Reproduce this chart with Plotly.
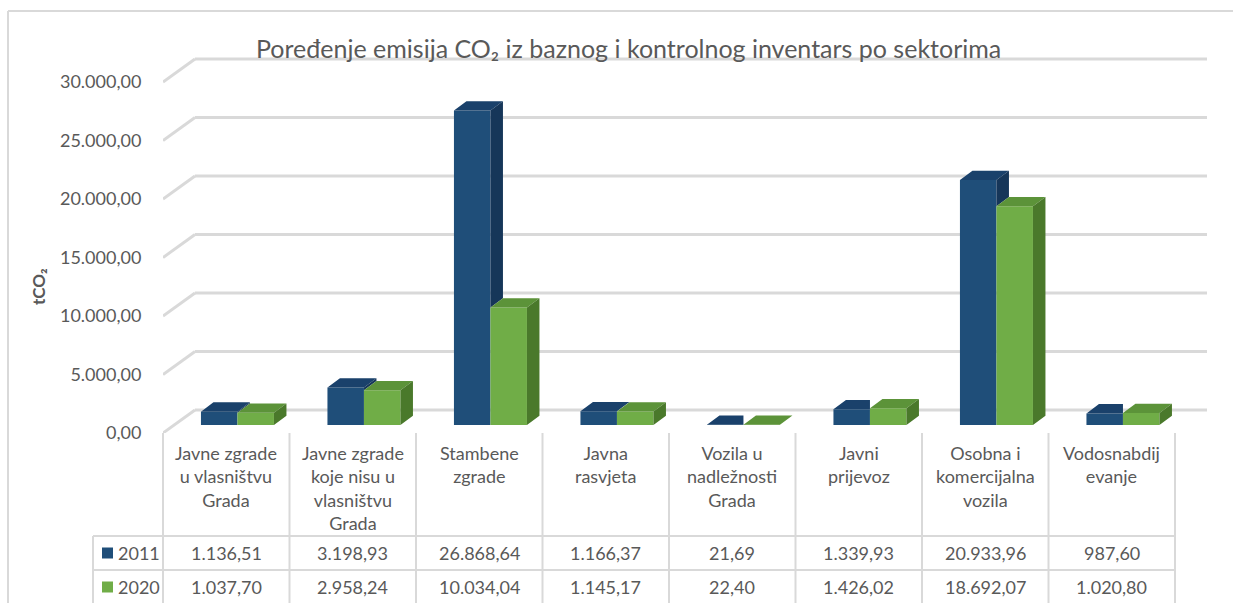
import plotly.graph_objects as go

# ---------------- data ----------------
categories = [
    "Javne zgrade<br>u vlasništvu<br>Grada",
    "Javne zgrade<br>koje nisu u<br>vlasništvu<br>Grada",
    "Stambene<br>zgrade",
    "Javna<br>rasvjeta",
    "Vozila u<br>nadležnosti<br>Grada",
    "Javni<br>prijevoz",
    "Osobna i<br>komercijalna<br>vozila",
    "Vodosnabdij<br>evanje",
]
series_names = ["2011", "2020"]
values_2011 = [1136.51, 3198.93, 26868.64, 1166.37, 21.69, 1339.93, 20933.96, 987.60]
values_2020 = [1037.70, 2958.24, 10034.04, 1145.17, 22.40, 1426.02, 18692.07, 1020.80]
y_ticks = [0, 5000, 10000, 15000, 20000, 25000, 30000]
title_text = "Poređenje emisija CO₂ iz baznog i kontrolnog inventars po sektorima"
y_title = "tCO₂"

# ---------------- style / layout constants ----------------
W, H = 1233, 603
ML, MR, MT, MB = 163, 26, 55, 170
PW, PH = W - ML - MR, H - MT - MB
CAT_PX = 126.5                       # pixels per category
Y_PER_PX = 30000 / 351.0             # value units per pixel
FONT = "Lato, 'Open Sans', sans-serif"
TXT = "#595959"
GRID = "#D9D9D9"
TABLE_LINE = "#D9D9D9"

BLUE, BLUE_TOP, BLUE_SIDE = "#1F4E79", "#1A416B", "#163659"
GREEN, GREEN_TOP, GREEN_SIDE = "#70AD47", "#5C9339", "#4A792B"

FLOOR_DX = 32 / CAT_PX               # oblique depth of the floor (x units)
FLOOR_DY = 23 * Y_PER_PX             # oblique depth of the floor (y units)
BAR_POS = 0.35                       # depth position of the bar front faces
SHIFT = BAR_POS * FLOOR_DX
BASE = BAR_POS * FLOOR_DY
BW = 36.5 / CAT_PX                   # bar width
BDX = 12.5 / CAT_PX                  # bar depth (x)
BDY = 9.3 * Y_PER_PX                 # bar depth (y)

n = len(categories)
idx = list(range(n))
x_range = [-0.5, -0.5 + PW / CAT_PX]
y_range = [0, PH * Y_PER_PX]


def px_x(p):
    return (p - ML) / PW


def px_y(p):
    return (H - MB - p) / PH


def fmt(v):
    s = f"{v:,.2f}"
    return s.replace(",", "X").replace(".", ",").replace("X", ".")


fig = go.Figure()

# front faces
fig.add_trace(go.Bar(x=idx, y=values_2011, base=BASE, width=BW, offset=SHIFT - BW,
                     marker=dict(color=BLUE, line=dict(width=0)), name=series_names[0],
                     hoverinfo="skip"))
fig.add_trace(go.Bar(x=idx, y=values_2020, base=BASE, width=BW, offset=SHIFT,
                     marker=dict(color=GREEN, line=dict(width=0)), name=series_names[1],
                     hoverinfo="skip"))

# top and side faces (computed from the values)
bt_x, bt_y, bs_x, bs_y, gt_x, gt_y, gs_x, gs_y = ([] for _ in range(8))
for i in idx:
    x0 = i + SHIFT - BW
    x1 = i + SHIFT
    x2 = x1 + BW
    vb = BASE + values_2011[i]
    vg = BASE + values_2020[i]
    if vg <= vb:
        bt_x += [x0, x1, x1 + BDX, x0 + BDX, x0, None]
        bt_y += [vb, vb, vb + BDY, vb + BDY, vb, None]
        bs_x += [x1, x1 + BDX, x1 + BDX, x1, x1, None]
        bs_y += [vg, vg + BDY, vb + BDY, vb, vg, None]
    else:
        bt_x += [x0, x1, x1, x0 + BDX, x0, None]
        bt_y += [vb, vb, vb + BDY, vb + BDY, vb, None]
    gt_x += [x1, x2, x2 + BDX, x1 + BDX, x1, None]
    gt_y += [vg, vg, vg + BDY, vg + BDY, vg, None]
    gs_x += [x2, x2 + BDX, x2 + BDX, x2, x2, None]
    gs_y += [BASE, BASE + BDY, vg + BDY, vg, BASE, None]

for xs, ys, col in [(bt_x, bt_y, BLUE_TOP), (bs_x, bs_y, BLUE_SIDE),
                    (gt_x, gt_y, GREEN_TOP), (gs_x, gs_y, GREEN_SIDE)]:
    fig.add_trace(go.Scatter(x=xs, y=ys, mode="lines", fill="toself", fillcolor=col,
                             line=dict(width=0, color="rgba(0,0,0,0)"),
                             hoverinfo="skip", showlegend=False))

shapes = []
# back wall grid lines + floor diagonals
for v in y_ticks:
    shapes.append(dict(type="line", xref="x", yref="y", layer="below",
                       x0=-0.5, y0=v, x1=-0.5 + FLOOR_DX, y1=v + FLOOR_DY,
                       line=dict(color=GRID, width=3)))
    shapes.append(dict(type="line", xref="x", yref="y", layer="below",
                       x0=-0.5 + FLOOR_DX, y0=v + FLOOR_DY, x1=n - 0.5 + FLOOR_DX, y1=v + FLOOR_DY,
                       line=dict(color=GRID, width=3)))

# data table lines (kept inside the page)
col_px = [ML + CAT_PX * k for k in range(n + 1)]
TAB_TOP, ROW1, ROW2, TAB_BOT, LEG_LEFT = 433, 536, 570, H, 93
for p in col_px:
    shapes.append(dict(type="line", xref="paper", yref="paper",
                       x0=px_x(p), x1=px_x(p), y0=px_y(TAB_TOP), y1=px_y(TAB_BOT),
                       line=dict(color=TABLE_LINE, width=2)))
shapes.append(dict(type="line", xref="paper", yref="paper",
                   x0=px_x(LEG_LEFT), x1=px_x(LEG_LEFT), y0=px_y(ROW1), y1=px_y(TAB_BOT),
                   line=dict(color=TABLE_LINE, width=2)))
for r in (ROW1, ROW2):
    shapes.append(dict(type="line", xref="paper", yref="paper",
                       x0=px_x(LEG_LEFT), x1=px_x(col_px[-1]), y0=px_y(r), y1=px_y(r),
                       line=dict(color=TABLE_LINE, width=2)))

# chart border (left and top visible)
shapes.append(dict(type="line", xref="paper", yref="paper",
                   x0=px_x(8), x1=px_x(8), y0=px_y(11), y1=px_y(H),
                   line=dict(color=TABLE_LINE, width=2)))
shapes.append(dict(type="line", xref="paper", yref="paper",
                   x0=px_x(8), x1=px_x(W), y0=px_y(11), y1=px_y(11),
                   line=dict(color=TABLE_LINE, width=2)))

annotations = []
annotations.append(dict(text=title_text, xref="paper", yref="paper",
                        x=px_x(628), y=px_y(48), xanchor="center", yanchor="middle",
                        showarrow=False, font=dict(family=FONT, size=25, color=TXT)))
annotations.append(dict(text=f"<b>{y_title}</b>", xref="paper", yref="paper",
                        x=px_x(38), y=px_y(287), xanchor="center", yanchor="middle",
                        textangle=-90, showarrow=False,
                        font=dict(family=FONT, size=17, color=TXT)))

# table header (category labels)
for i, lab in enumerate(categories):
    annotations.append(dict(text=lab, xref="x", yref="paper", x=i, y=px_y(440),
                            xanchor="center", yanchor="top", align="center",
                            showarrow=False, font=dict(family=FONT, size=18, color=TXT)))

# table rows
row_centers = [553, 587]
for vals, name, col, yc in [(values_2011, series_names[0], BLUE, row_centers[0]),
                            (values_2020, series_names[1], GREEN, row_centers[1])]:
    for i, v in enumerate(vals):
        annotations.append(dict(text=fmt(v), xref="x", yref="paper", x=i, y=px_y(yc),
                                xanchor="center", yanchor="middle", showarrow=False,
                                font=dict(family=FONT, size=18, color=TXT)))
    shapes.append(dict(type="rect", xref="paper", yref="paper",
                       x0=px_x(102), x1=px_x(113), y0=px_y(yc - 5.5), y1=px_y(yc + 5.5),
                       fillcolor=col, line=dict(width=0)))
    annotations.append(dict(text=name, xref="paper", yref="paper", x=px_x(116), y=px_y(yc),
                            xanchor="left", yanchor="middle", showarrow=False,
                            font=dict(family=FONT, size=18, color=TXT)))

fig.update_layout(
    width=W, height=H, autosize=False,
    margin=dict(l=ML, r=MR, t=MT, b=MB, pad=0),
    paper_bgcolor="white", plot_bgcolor="white",
    barmode="overlay", showlegend=False, hovermode=False,
    shapes=shapes, annotations=annotations,
    xaxis=dict(range=x_range, visible=False, fixedrange=True),
    yaxis=dict(range=y_range, showgrid=False, zeroline=False, showline=False,
               tickvals=y_ticks, ticktext=[fmt(v) for v in y_ticks],
               ticks="outside", ticklen=17, tickcolor="rgba(0,0,0,0)",
               tickfont=dict(family=FONT, size=18, color=TXT), fixedrange=True),
    font=dict(family=FONT, color=TXT),
)

page_css = ("html,body{margin:0!important;padding:0;overflow:hidden!important;}"
            "::-webkit-scrollbar{display:none;width:0;height:0;}")
fig.write_html("out.html", config={"displayModeBar": False, "staticPlot": True},
               post_script="var s=document.createElement('style');s.textContent='" + page_css +
                           "';document.head.appendChild(s);")
